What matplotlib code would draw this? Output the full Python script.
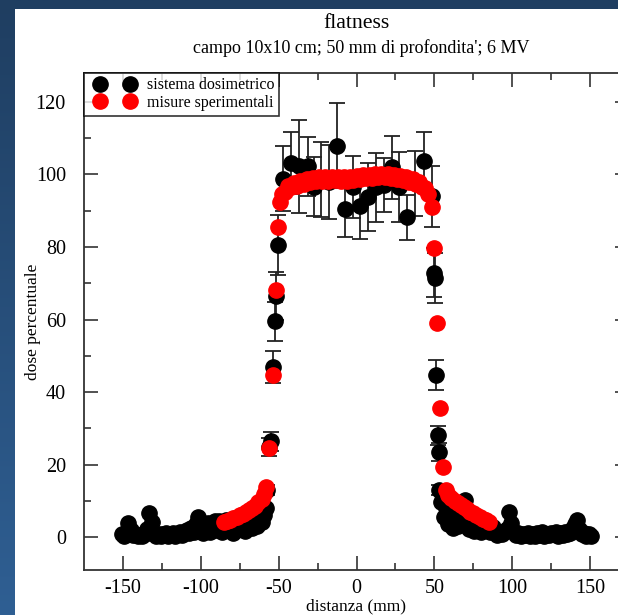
import numpy as np
import matplotlib
matplotlib.use("Agg")
import matplotlib.pyplot as plt
from matplotlib.patches import Rectangle
from matplotlib.lines import Line2D
from matplotlib.legend_handler import HandlerLine2D
from matplotlib.colors import LinearSegmentedColormap

plt.rcParams['font.family'] = ['Liberation Serif', 'DejaVu Serif']
plt.rcParams['axes.unicode_minus'] = False

# ---- data: sistema dosimetrico (black) ----
# tails: error bars are smaller than the markers there
left_x = [-150.5, -149.5, -148, -146.5, -145, -143.5, -142, -140.5, -139, -137.5,
          -136, -134.5, -133, -131.5, -130, -128.5, -127, -125.5, -124, -122.5,
          -121, -119.5, -118, -116.5, -115, -113.5, -112, -110.5, -109, -107.5,
          -106, -104.5, -103, -101.5, -100, -98.5, -97, -95.5, -94, -92.5, -91,
          -89.5, -88, -86.5, -85, -83.5, -82, -80.5, -79, -77.5, -76, -74.5, -73,
          -71.5, -70, -68.5, -67, -65.5, -64, -62.5, -61, -59.5, -58]
left_y = [0.8, 0.3, 1.2, 3.9, 2.0, 0.6, 0.9, 0.4, 0.7, 0.3,
          1.0, 2.3, 6.6, 4.2, 1.1, 0.5, 0.8, 0.3, 0.9, 1.2,
          0.4, 0.7, 1.3, 0.5, 1.0, 1.6, 0.6, 1.4, 2.0, 1.1,
          2.6, 1.4, 3.8, 5.5, 3.0, 1.2, 2.4, 4.0, 1.6, 3.2, 4.4,
          2.0, 4.6, 1.4, 3.6, 4.7, 2.2, 4.2, 1.3, 3.4, 4.6, 2.4, 4.8,
          1.8, 3.9, 4.9, 2.6, 4.4, 3.0, 5.0, 4.3, 6.2, 8.0]
right_x = [54.5, 56, 57.5, 59, 60.5, 62, 63.5, 65, 66.5, 68, 69.5, 71, 72.5, 74,
           75.5, 77, 78.5, 80, 81.5, 83, 84.5, 86, 87.5, 89, 90.5, 92, 93.5, 95,
           96.5, 98, 99.5, 101, 102.5, 104, 105.5, 107, 108.5, 110, 111.5, 113,
           114.5, 116, 117.5, 119, 120.5, 122, 123.5, 125, 126.5, 128, 129.5, 131,
           132.5, 134, 135.5, 137, 138.5, 140, 141.5, 143, 144.5, 146, 147.5, 149,
           150.5]
right_y = [9.7, 5.5, 8.2, 3.8, 7.0, 2.6, 6.4, 3.2, 5.6, 7.8, 10.2, 4.4, 2.2, 5.4,
           1.8, 4.6, 2.6, 1.6, 4.0, 2.0, 3.2, 1.5, 2.8, 1.2, 0.6, 1.4, 0.8, 1.6,
           2.4, 6.9, 4.0, 1.4, 0.7, 1.2, 0.4, 1.0, 0.6, 1.3, 0.5, 0.9,
           0.4, 1.2, 0.7, 1.4, 0.5, 1.0, 0.6, 1.3, 0.8, 1.4, 0.5, 1.1,
           0.7, 1.4, 0.9, 1.2, 2.2, 3.6, 4.7, 2.4, 0.8, 1.3, 0.5, 0.9,
           0.3]

core_x = [-57.3, -56.0, -55.2, -53.4, -52.2, -51.6, -50.6,
          -47.4, -42.0, -36.7, -31.3, -27.0, -22.7, -17.6, -12.7, -7.3, -2.4,
          2.5, 7.3, 12.4, 17.8, 22.6, 27.6, 32.6, 37.5, 43.3, 48.4,
          49.9, 50.2, 51.3, 52.4, 53.3, 52.7]
core_y = [13.0, 25.0, 26.5, 47.0, 59.5, 66.5, 80.6,
          98.8, 103.1, 102.2, 102.2, 96.6, 98.5, 97.8, 107.9, 90.4, 96.6,
          91.3, 93.8, 96.4, 97.0, 101.9, 96.6, 88.2, 97.5, 103.8, 93.9,
          72.9, 71.4, 44.7, 28.1, 23.5, 13.0]
core_err = [1.3, 2.5, 2.6, 4.4, 5.3, 6.5, 8.2,
            9.0, 8.6, 12.8, 8.2, 8.2, 10.3, 10.2, 11.8, 7.6, 8.5,
            9.0, 9.3, 9.6, 7.5, 8.6, 9.6, 6.2, 9.0, 8.0, 8.4,
            6.8, 6.8, 4.1, 2.6, 2.4, 1.3]

# ---- data: misure sperimentali (red) ----
red_x = [-85, -83, -81, -79, -77, -75, -73, -71, -69, -67, -65, -63, -61, -59.5,
         -58.2, -56.0, -53.9, -52.0, -50.3, -49.2,
         -48, -46, -44, -42, -40, -38, -36, -34, -32, -30, -28, -26, -24, -22,
         -20, -18, -16, -14, -12, -10, -8, -6, -4, -2, 0, 2, 4, 6, 8, 10, 12,
         14, 16, 18, 20, 22, 24, 26, 28, 30, 32, 34, 36, 38, 40, 42, 44, 46,
         48.3, 49.6, 51.5, 53.4, 55.4, 57.3,
         59, 61, 63, 65, 67, 69, 71, 73, 75, 77, 79, 81, 83, 85]
red_y = [4.1, 4.5, 4.9, 5.3, 5.7, 6.1, 6.5, 7.0, 7.5, 8.1, 8.7, 9.6, 10.6, 11.8,
         14.0, 24.5, 44.7, 68.1, 85.4, 92.5,
         94.6, 95.2, 96.8, 96.5, 97.6, 96.9, 98.2, 97.4, 98.6, 97.9, 98.9, 98.1,
         99.2, 98.2, 99.3, 98.3, 99.4, 98.4, 99.4, 98.3, 99.4, 98.3, 99.3, 98.4,
         99.5, 98.6, 99.7, 98.9, 99.9, 99.1, 100.1, 99.2, 100.2, 99.2, 100.1,
         99.0, 99.9, 98.8, 99.6, 98.5, 99.2, 98.0, 98.7, 97.4, 97.8, 96.5, 96.2,
         94.6,
         91.0, 79.7, 59.0, 35.6, 19.3, 13.0,
         11.6, 10.7, 10.0, 9.4, 8.9, 8.3, 7.7, 7.1, 6.6, 6.1, 5.6, 5.1, 4.7, 4.3]

xticks = [-150, -100, -50, 0, 50, 100, 150]
yticks = [0, 20, 40, 60, 80, 100, 120]

ms = 11

fig = plt.figure(figsize=(6.18, 6.15), dpi=100)

# blue backdrop + white page
bg = fig.add_axes([0, 0, 1, 1], zorder=-10)
cmap = LinearSegmentedColormap.from_list('bg', ['#1f3e61', '#2f5f93'])
bg.imshow(np.linspace(0, 1, 256).reshape(-1, 1), cmap=cmap, aspect='auto',
          extent=[0, 1, 0, 1], origin='upper')
bg.axis('off')
fig.patches.append(Rectangle((15 / 618, 0), 1, 1 - 9 / 615, transform=fig.transFigure,
                             facecolor='white', edgecolor='none', zorder=-5))

ax = fig.add_axes([84 / 618, 45 / 615, 545 / 618, 497.3 / 615])
ax.set_facecolor('none')

ax.errorbar(core_x, core_y, yerr=core_err, fmt='none', ecolor='#222222',
            elinewidth=1.3, capsize=5.5, capthick=1.3, zorder=2)
ax.plot(core_x, core_y, 'o', color='black', markersize=ms, zorder=3)
ax.plot(left_x, left_y, 'o', color='black', markersize=ms, zorder=3)
ax.plot(right_x, right_y, 'o', color='black', markersize=ms, zorder=3)
ax.plot(red_x, red_y, 'o', color='red', markersize=ms, zorder=4)

ax.set_xlim(-175, 175)
ax.set_ylim(-9, 128)
ax.set_xticks(xticks)
ax.set_yticks(yticks)
ax.set_xticks([-125, -75, -25, 25, 75, 125], minor=True)
ax.set_yticks([10, 30, 50, 70, 90, 110], minor=True)
ax.tick_params(which='both', direction='in', top=True, right=True,
               color='#333333', width=1.2, labelsize=14.5)
ax.tick_params(axis='x', pad=6.5)
ax.tick_params(axis='y', pad=13)
ax.tick_params(which='major', length=10)
ax.tick_params(which='minor', length=5)
for s in ax.spines.values():
    s.set_color('#333333')
    s.set_linewidth(1.3)

ax.set_xlabel('distanza (mm)', fontsize=12.5, labelpad=0)
ax.set_ylabel('dose percentuale', fontsize=12.5)
ax.yaxis.set_label_coords(-0.079, 0.5)

fig.text(356 / 618, 1 - 24 / 615, 'flatness', ha='center', va='center', fontsize=15.7)
fig.text(361 / 618, 1 - 48 / 615, "campo 10x10 cm; 50 mm di profondita'; 6 MV",
         ha='center', va='center', fontsize=13)

handles = [Line2D([], [], marker='o', color='black', linestyle='none', markersize=ms),
           Line2D([], [], marker='o', color='red', linestyle='none', markersize=ms)]
leg = ax.legend(handles, ['sistema dosimetrico', 'misure sperimentali'],
                loc='upper left', numpoints=2, fontsize=11.5, frameon=True,
                fancybox=False, borderaxespad=0, handlelength=3.275,
                handletextpad=0.36, labelspacing=0.1, borderpad=0.3,
                handler_map={Line2D: HandlerLine2D(marker_pad=0.7)})
leg.get_frame().set_edgecolor('black')
leg.get_frame().set_linewidth(1.2)

fig.savefig('out.png', dpi=100)
